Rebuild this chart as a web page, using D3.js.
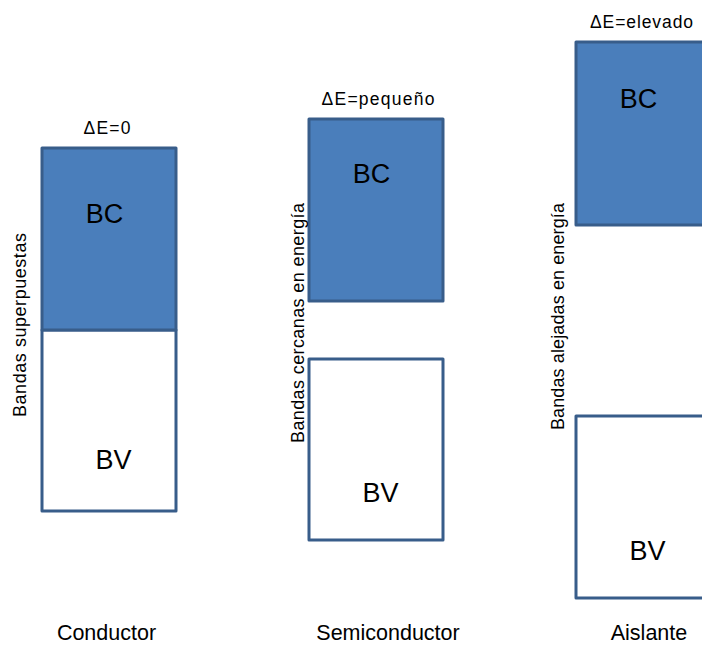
<!DOCTYPE html>
<html>
<head>
<meta charset="utf-8">
<script src="https://cdn.jsdelivr.net/npm/d3@7"></script>
<style>
  html, body { margin: 0; padding: 0; background: #fff; }
  svg { display: block; }
  text { font-family: "Liberation Sans", Arial, sans-serif; fill: #000; }
</style>
</head>
<body>
<svg id="chart" width="702" height="646"></svg>
<script>
// ---- data ----
const materials   = ["Conductor", "Semiconductor", "Aislante"];
const gapLabels   = ["ΔE=0", "ΔE=pequeño", "ΔE=elevado"];
const sideLabels  = ["Bandas superpuestas", "Bandas cercanas en energía", "Bandas alejadas en energía"];
const bandNames   = ["BC", "BV"];
// energy levels (arbitrary units)
const bcTop    = [492, 521, 598];
const bcBottom = [310, 339, 415];
const bvTop    = [310, 281, 224];
const bvBottom = [129, 100, 42];

// ---- layout ----
const svg = d3.select("#chart");
const x = d3.scalePoint().domain(materials).range([109, 643]);
const y = d3.scaleLinear().domain([0, 600]).range([640, 40]);
const boxW = 134;
const bcFill = "#4a7ebb", stroke = "#385d8a";

// per-panel label adjustments (layout only)
const bcLabelDy   = [75, 64, 66];
const bvLabelDy   = [42, 38, 38];
const sideX       = [26, 304, 564];
const sideCenterY = [325, 323, 316.5];
const sideLen     = [184, 240, 227];
const gapLen      = [47, 113, 103];
const gapDx       = [-2, 2, -1.5];
const titleX      = [106.5, 388, 649];

materials.forEach((m, i) => {
  const cx = x(m);
  const g = svg.append("g");

  // valence band (white)
  g.append("rect")
    .attr("x", cx - boxW / 2)
    .attr("y", y(bvTop[i]))
    .attr("width", boxW)
    .attr("height", y(bvBottom[i]) - y(bvTop[i]))
    .attr("fill", "#fff")
    .attr("stroke", stroke)
    .attr("stroke-width", 3)
    .attr("stroke-linejoin", "round");

  // conduction band (blue)
  g.append("rect")
    .attr("x", cx - boxW / 2)
    .attr("y", y(bcTop[i]))
    .attr("width", boxW)
    .attr("height", y(bcBottom[i]) - y(bcTop[i]))
    .attr("fill", bcFill)
    .attr("stroke", stroke)
    .attr("stroke-width", 3)
    .attr("stroke-linejoin", "round");

  // BC label
  g.append("text")
    .attr("x", cx - 4.5)
    .attr("y", y(bcTop[i]) + bcLabelDy[i])
    .attr("text-anchor", "middle")
    .attr("font-size", 27)
    .text(bandNames[0]);

  // BV label
  g.append("text")
    .attr("x", cx + 4.5)
    .attr("y", y(bvBottom[i]) - bvLabelDy[i])
    .attr("text-anchor", "middle")
    .attr("font-size", 27)
    .text(bandNames[1]);

  // gap label above BC
  g.append("text")
    .attr("x", cx + gapDx[i])
    .attr("y", y(bcTop[i]) - 14)
    .attr("text-anchor", "middle")
    .attr("font-size", 17.5)
    .attr("textLength", gapLen[i])
    .attr("lengthAdjust", "spacing")
    .text(gapLabels[i]);

  // rotated side label
  g.append("text")
    .attr("transform", `translate(${sideX[i]},${sideCenterY[i]}) rotate(-90)`)
    .attr("text-anchor", "middle")
    .attr("font-size", 18)
    .attr("textLength", sideLen[i])
    .attr("lengthAdjust", "spacing")
    .text(sideLabels[i]);

  // material title
  g.append("text")
    .attr("x", titleX[i])
    .attr("y", 640)
    .attr("text-anchor", "middle")
    .attr("font-size", 21.5)
    .text(m);
});
</script>
</body>
</html>
